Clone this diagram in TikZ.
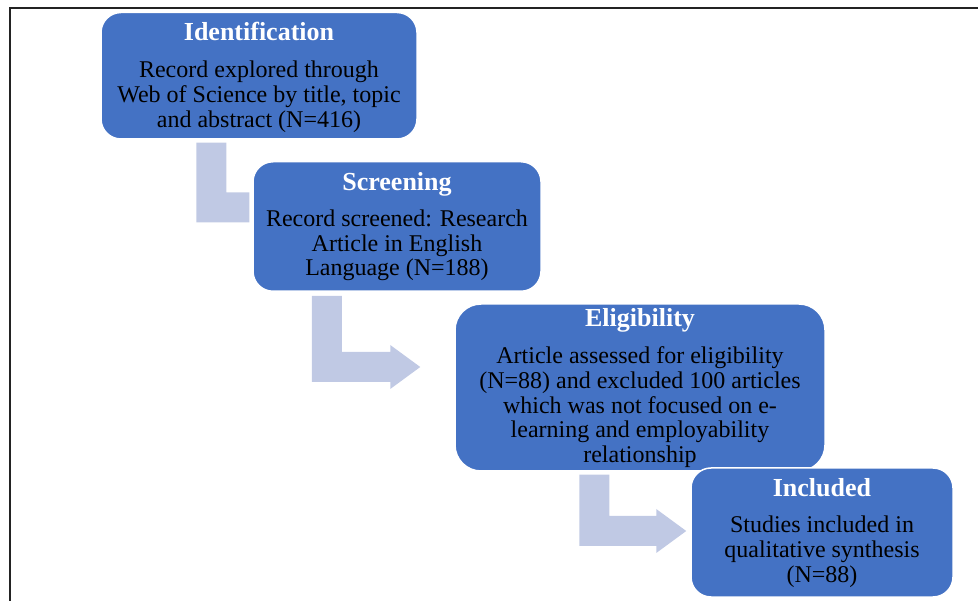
\documentclass[tikz,border=0pt]{standalone}
\usepackage{fontspec}
\setmainfont{Liberation Serif}
\usetikzlibrary{calc,backgrounds}

\definecolor{boxblue}{RGB}{68,114,196}
\definecolor{arrowblue}{RGB}{192,201,228}
\definecolor{framegray}{RGB}{35,35,35}

% Bent block arrow: vertical bar down from #1, then right to the tip #2
\newcommand\bentarrow[2]{%
  \fill[arrowblue] let \p1=(#1), \p2=(#2) in
    (\x1-15pt,\y1) -- (\x1+15pt,\y1) -- (\x1+15pt,\y2+15pt)
    -- (\x2-30pt,\y2+15pt) -- (\x2-30pt,\y2+22pt) -- (\x2,\y2)
    -- (\x2-30pt,\y2-22pt) -- (\x2-30pt,\y2-15pt)
    -- (\x1-15pt,\y2-15pt) -- cycle;}
% Bent bar without a head, ending at #2
\newcommand\bentbar[2]{%
  \fill[arrowblue] let \p1=(#1), \p2=(#2) in
    (\x1-15pt,\y1) -- (\x1+15pt,\y1) -- (\x1+15pt,\y2+15pt)
    -- (\x2,\y2+15pt) -- (\x2,\y2-15pt)
    -- (\x1-15pt,\y2-15pt) -- cycle;}

\tikzset{
  stagebox/.style={draw=white, line width=1.5pt, fill=boxblue,
    rounded corners=20pt, inner sep=0pt},
  stagetitle/.style={anchor=base, inner sep=0pt, text=white,
    font=\bfseries\fontsize{26}{28}\selectfont},
  % anchored at the baseline of the last line
  stagetext/.style={anchor=base, inner sep=0pt, align=center, text=black,
    font=\fontsize{24}{24.7}\selectfont},
}

\begin{document}
\begin{tikzpicture}[x=1pt, y=-1pt]
\useasboundingbox (0,0) rectangle (978,601);

% frame
\draw[framegray, line width=1.8pt] (9.8,603) -- (9.8,8.3) -- (980,8.3);

% stage boxes
\node[stagebox, minimum width=316pt, minimum height=126.5pt] (ident) at (259,75.75) {};
\node[stagebox, minimum width=288pt, minimum height=129.5pt] (screen) at (397,226.5) {};
\node[stagebox, rounded corners=26pt, minimum width=370pt, minimum height=167pt] (elig) at (640,387.5) {};
\node[stagebox, minimum width=262pt, minimum height=129pt] (incl) at (822,532.5) {};

% titles and texts
\node[stagetitle] (identT) at ($(ident.north)+(0,29)$) {Identification};
\node[stagetext] (identB) at ($(ident.north)+(0,115.5)$)
  {Record explored through\\Web of Science by title, topic\\and abstract (N=416)};
\node[stagetitle] (screenT) at ($(screen.north)+(0,30)$) {Screening};
\node[stagetext] (screenB) at ($(screen.north)+(0,115)$)
  {Record screened: Research\\Article in English\\Language (N=188)};
\node[stagetitle] (eligT) at ($(elig.north)+(0,23.5)$) {Eligibility};
\node[stagetext] (eligB) at ($(elig.north)+(0,159.4)$)
  {Article assessed for eligibility\\(N=88) and excluded 100 articles\\which was not focused on e-\\learning and employability\\relationship};
\node[stagetitle] (inclT) at ($(incl.north)+(0,29)$) {Included};
\node[stagetext] (inclB) at ($(incl.north)+(0,115)$)
  {Studies included in\\qualitative synthesis\\(N=88)};

% connector end points
\coordinate (s1) at ($(ident.south west)+(111,3)$);
\coordinate (e1) at ($(screen.west)+(-3,-19)$);
\coordinate (s2) at ($(screen.south west)+(74.5,4)$);
\coordinate (t2) at ($(elig.west)+(-34,-20.5)$);
\coordinate (s3) at ($(elig.south west)+(140,3)$);
\coordinate (t3) at ($(incl.west)+(-4,-1.5)$);

% connectors behind the boxes
\begin{scope}[on background layer]
  \bentbar{s1}{e1}
  \bentarrow{s2}{t2}
  \bentarrow{s3}{t3}
\end{scope}
\end{tikzpicture}
\end{document}
